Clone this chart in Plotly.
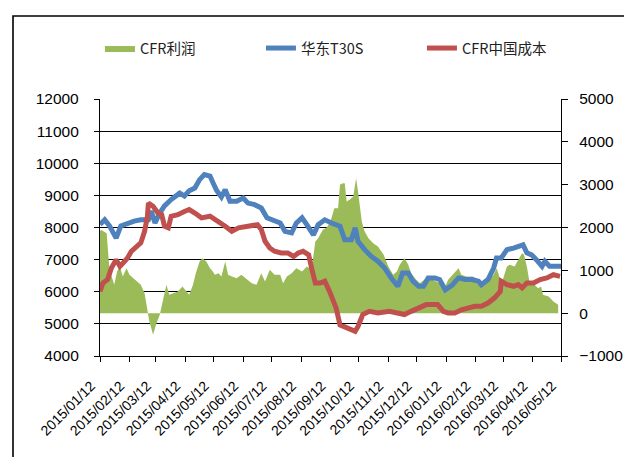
import plotly.graph_objects as go

# ---------------- data ----------------
tick_dates = ["2015-01-12", "2015-02-12", "2015-03-12", "2015-04-12", "2015-05-12", "2015-06-12",
              "2015-07-12", "2015-08-12", "2015-09-12", "2015-10-12", "2015-11-12", "2015-12-12",
              "2016-01-12", "2016-02-12", "2016-03-12", "2016-04-12", "2016-05-12"]
tick_labels = ["2015/01/12", "2015/02/12", "2015/03/12", "2015/04/12", "2015/05/12", "2015/06/12",
               "2015/07/12", "2015/08/12", "2015/09/12", "2015/10/12", "2015/11/12", "2015/12/12",
               "2016/01/12", "2016/02/12", "2016/03/12", "2016/04/12", "2016/05/12"]

# CFR利润 (right axis)
profit_dates = ["2015-01-12", "2015-01-13", "2015-01-19", "2015-01-20", "2015-01-22", "2015-01-26",
                "2015-01-27", "2015-01-30", "2015-02-02", "2015-02-05", "2015-02-09", "2015-02-12",
                "2015-02-16", "2015-02-21", "2015-02-24", "2015-02-28", "2015-03-03", "2015-03-05",
                "2015-03-09", "2015-03-12", "2015-03-16", "2015-03-19", "2015-03-23", "2015-03-26",
                "2015-03-30", "2015-04-04", "2015-04-09", "2015-04-13", "2015-04-16", "2015-04-20",
                "2015-04-23", "2015-04-27", "2015-04-30", "2015-05-04", "2015-05-08", "2015-05-11",
                "2015-05-13", "2015-05-17", "2015-05-20", "2015-05-24", "2015-05-27", "2015-05-31",
                "2015-06-05", "2015-06-10", "2015-06-16", "2015-06-21", "2015-06-26", "2015-07-01",
                "2015-07-05", "2015-07-10", "2015-07-15", "2015-07-21", "2015-07-24", "2015-07-28",
                "2015-08-02", "2015-08-07", "2015-08-13", "2015-08-18", "2015-08-23", "2015-08-27",
                "2015-08-30", "2015-09-04", "2015-09-08", "2015-09-11", "2015-09-13", "2015-09-16",
                "2015-09-20", "2015-09-22", "2015-09-25", "2015-09-27", "2015-09-29", "2015-10-02",
                "2015-10-06", "2015-10-09", "2015-10-11", "2015-10-15", "2015-10-18", "2015-10-22",
                "2015-10-27", "2015-11-01", "2015-11-07", "2015-11-12", "2015-11-17", "2015-11-21",
                "2015-11-24", "2015-11-29", "2015-12-03", "2015-12-06", "2015-12-10", "2015-12-15",
                "2015-12-22", "2015-12-29", "2016-01-05", "2016-01-11", "2016-01-14", "2016-01-19",
                "2016-01-25", "2016-01-28", "2016-02-02", "2016-02-09", "2016-02-15", "2016-02-20",
                "2016-02-25", "2016-03-02", "2016-03-05", "2016-03-07", "2016-03-10", "2016-03-16",
                "2016-03-19", "2016-03-24", "2016-03-28", "2016-04-01", "2016-04-03", "2016-04-06",
                "2016-04-09", "2016-04-14", "2016-04-18", "2016-04-21", "2016-04-23", "2016-04-29",
                "2016-05-04", "2016-05-09"]
profit_values = [1907, 1945, 1868, 1518, 1011, 740,
                 661, 973, 1090, 857, 1051, 894,
                 817, 740, 661, 467, 0, -194,
                 -506, -272, -39, 273, 661, 428,
                 467, 506, 623, 506, 428, 661,
                 934, 1207, 1284, 1207, 1051, 973,
                 894, 934, 857, 1207, 894, 857,
                 817, 894, 778, 700, 661, 934,
                 740, 1011, 894, 894, 700, 857,
                 934, 1051, 973, 1090, 1011, 1674,
                 1751, 1945, 2000, 2101, 2218, 2452,
                 2452, 2996, 3035, 3035, 2608, 2646,
                 2724, 3152, 2841, 2141, 1907, 1751,
                 1634, 1557, 1362, 1090, 894, 973,
                 1128, 1284, 1128, 934, 817, 700,
                 817, 778, 700, 623, 778, 894,
                 1051, 894, 857, 857, 778, 661,
                 740, 894, 1051, 934, 661, 1090,
                 1128, 1090, 1245, 1401, 1362, 1090,
                 700, 661, 584, 623, 428, 389,
                 273, 194]

# 华东T30S (left axis)
t30s_dates = ["2015-01-12", "2015-01-17", "2015-01-22", "2015-01-29", "2015-02-03", "2015-02-10",
              "2015-02-17", "2015-02-24", "2015-03-04", "2015-03-07", "2015-03-11", "2015-03-16",
              "2015-03-21", "2015-03-28", "2015-04-06", "2015-04-11", "2015-04-16", "2015-04-22",
              "2015-04-27", "2015-05-02", "2015-05-08", "2015-05-11", "2015-05-15", "2015-05-20",
              "2015-05-24", "2015-05-29", "2015-06-05", "2015-06-12", "2015-06-17", "2015-06-24",
              "2015-07-01", "2015-07-07", "2015-07-14", "2015-07-21", "2015-07-26", "2015-08-02",
              "2015-08-07", "2015-08-13", "2015-08-18", "2015-08-25", "2015-08-30", "2015-09-06",
              "2015-09-13", "2015-09-18", "2015-09-22", "2015-09-27", "2015-10-04", "2015-10-08",
              "2015-10-11", "2015-10-18", "2015-10-25", "2015-11-01", "2015-11-08", "2015-11-15",
              "2015-11-22", "2015-11-27", "2015-12-03", "2015-12-08", "2015-12-14", "2015-12-19",
              "2015-12-24", "2015-12-31", "2016-01-05", "2016-01-11", "2016-01-18", "2016-01-25",
              "2016-02-01", "2016-02-08", "2016-02-15", "2016-02-18", "2016-02-25", "2016-03-02",
              "2016-03-05", "2016-03-10", "2016-03-16", "2016-03-23", "2016-03-30", "2016-04-02",
              "2016-04-06", "2016-04-11", "2016-04-16", "2016-04-22", "2016-04-25", "2016-04-30",
              "2016-05-07", "2016-05-12"]
t30s_values = [8090, 8240, 8050, 7670, 8050, 8140,
               8200, 8240, 8240, 8510, 8140, 8450,
               8670, 8870, 9070, 8980, 9140, 9230,
               9490, 9650, 9600, 9400, 9150, 8950,
               9180, 8820, 8820, 8920, 8760, 8710,
               8610, 8300, 8240, 8140, 7880, 7830,
               8140, 8300, 8090, 7770, 8090, 8240,
               8140, 8060, 8040, 7620, 7620, 7990,
               7570, 7310, 7100, 6950, 6740, 6430,
               6170, 6580, 6580, 6330, 6170, 6170,
               6430, 6430, 6380, 6060, 6200, 6430,
               6380, 6380, 6330, 6220, 6380, 6740,
               7050, 7050, 7310, 7360, 7460, 7460,
               7210, 7150, 7000, 6790, 6950, 6790,
               6790, 6790]

# CFR中国成本 (left axis)
cost_dates = ["2015-01-12", "2015-01-15", "2015-01-20", "2015-01-24", "2015-01-29", "2015-02-02",
              "2015-02-07", "2015-02-10", "2015-02-14", "2015-02-19", "2015-02-24", "2015-02-28",
              "2015-03-03", "2015-03-04", "2015-03-09", "2015-03-14", "2015-03-18", "2015-03-21",
              "2015-03-25", "2015-03-28", "2015-04-04", "2015-04-11", "2015-04-16", "2015-04-22",
              "2015-04-29", "2015-05-08", "2015-05-17", "2015-05-24", "2015-05-31", "2015-06-07",
              "2015-06-17", "2015-06-27", "2015-07-01", "2015-07-05", "2015-07-10", "2015-07-15",
              "2015-07-22", "2015-07-29", "2015-08-04", "2015-08-09", "2015-08-14", "2015-08-20",
              "2015-08-23", "2015-08-27", "2015-09-01", "2015-09-06", "2015-09-11", "2015-09-16",
              "2015-09-18", "2015-09-22", "2015-09-29", "2015-10-08", "2015-10-11", "2015-10-16",
              "2015-10-23", "2015-11-01", "2015-11-13", "2015-11-22", "2015-11-29", "2015-12-06",
              "2015-12-14", "2015-12-22", "2016-01-03", "2016-01-09", "2016-01-14", "2016-01-21",
              "2016-01-28", "2016-02-04", "2016-02-11", "2016-02-18", "2016-02-25", "2016-03-03",
              "2016-03-09", "2016-03-10", "2016-03-16", "2016-03-23", "2016-03-28", "2016-04-01",
              "2016-04-06", "2016-04-13", "2016-04-20", "2016-04-27", "2016-05-04", "2016-05-11"]
cost_values = [6010, 6270, 6380, 6740, 7000, 6790,
               6950, 7050, 7260, 7410, 7520, 7880,
               8350, 8760, 8660, 8450, 8400, 8040,
               7990, 8350, 8400, 8500, 8560, 8450,
               8300, 8350, 8200, 8040, 7880, 7990,
               8040, 8090, 7940, 7570, 7360, 7260,
               7210, 7210, 7100, 7210, 7260, 7150,
               6740, 6270, 6270, 6330, 6010, 5700,
               5490, 4970, 4870, 4770, 4920, 5290,
               5390, 5340, 5390, 5340, 5290, 5390,
               5490, 5600, 5600, 5390, 5340, 5340,
               5440, 5490, 5550, 5550, 5650, 5810,
               6010, 6330, 6220, 6170, 6220, 6120,
               6270, 6270, 6380, 6430, 6530, 6480]

# ---------------- figure ----------------
FONT = "Liberation Sans, Noto Sans CJK SC, sans-serif"
fig = go.Figure()

fig.add_trace(go.Scatter(
    x=profit_dates, y=profit_values, name="CFR利润", yaxis="y",
    mode="lines", fill="tozeroy", fillcolor="#9BBB59",
    line=dict(width=0, color="#9BBB59")))

fig.add_trace(go.Scatter(
    x=t30s_dates, y=t30s_values, name="华东T30S", yaxis="y2",
    mode="lines", line=dict(width=5, color="#4F81BD")))

fig.add_trace(go.Scatter(
    x=cost_dates, y=cost_values, name="CFR中国成本", yaxis="y2",
    mode="lines", line=dict(width=5, color="#C0504D")))

fig.update_layout(
    width=632, height=457,
    margin=dict(l=92, r=79, t=91, b=109, pad=0),
    paper_bgcolor="white", plot_bgcolor="white",
    font=dict(family=FONT, size=15, color="#000000"),
    showlegend=True,
    legend=dict(orientation="h", x=-0.0001, xanchor="left", y=1.198, yanchor="middle",
                font=dict(family="Noto Sans CJK SC, Liberation Sans", size=14.5, color="#222"),
                entrywidth=116, entrywidthmode="pixels",
                bgcolor="rgba(0,0,0,0)", itemsizing="constant", tracegroupgap=0),
    xaxis=dict(
        type="date", range=["2015-01-12", "2016-05-12"],
        tickvals=tick_dates, ticktext=tick_labels, tickangle=-45,
        tickfont=dict(size=14), ticks="outside", ticklen=5, tickcolor="black", tickwidth=1,
        showline=True, linecolor="black", linewidth=1.3, showgrid=False, zeroline=False,
        ticklabelstandoff=10, ticklabelshift=-9),
    yaxis=dict(
        side="right", range=[-1000, 5000], dtick=1000, tick0=0, tickformat="d",
        ticks="outside", ticklen=6, tickcolor="black", tickwidth=1,
        showline=True, linecolor="black", linewidth=1.3, showgrid=False, zeroline=False,
        tickfont=dict(size=15.5), ticklabelstandoff=8),
    yaxis2=dict(
        overlaying="y", side="left", range=[4000, 12000], dtick=1000, tick0=4000, tickformat="d",
        ticks="outside", ticklen=5, tickcolor="black", tickwidth=1,
        showline=True, linecolor="black", linewidth=1.3,
        showgrid=True, gridcolor="black", gridwidth=1.2, zeroline=False,
        tickfont=dict(size=15.5), ticklabelstandoff=12),
    shapes=[dict(type="rect", xref="paper", yref="paper",
                 x0=-0.1887, y0=1.323, x1=1.5, y1=-1.0,
                 line=dict(color="black", width=1.6), fillcolor="rgba(0,0,0,0)", layer="above")],
)

fig.write_html("out.html")
